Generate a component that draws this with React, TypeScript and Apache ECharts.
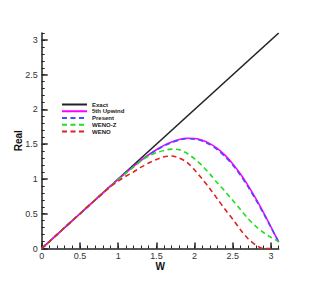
import React, { useEffect, useRef } from "react";
import * as echarts from "echarts";

const W = [0, 0.1, 0.2, 0.3, 0.4, 0.5, 0.6, 0.7, 0.8, 0.9, 1.0, 1.1, 1.2, 1.3, 1.4, 1.5, 1.6, 1.7, 1.8, 1.9, 2.0, 2.1, 2.2, 2.3, 2.4, 2.5, 2.6, 2.7, 2.8, 2.9, 3.0, 3.1];
const exactX = [0, 3.1];
const exactY = [0, 3.1];
const upwind5 = [0, 0.1, 0.2, 0.3, 0.4, 0.5, 0.6, 0.699, 0.799, 0.897, 0.994, 1.089, 1.181, 1.268, 1.349, 1.421, 1.484, 1.533, 1.568, 1.585, 1.582, 1.557, 1.509, 1.436, 1.339, 1.217, 1.072, 0.905, 0.72, 0.52, 0.309, 0.092];
const present = [0, 0.1, 0.2, 0.3, 0.4, 0.5, 0.6, 0.699, 0.799, 0.897, 0.993, 1.087, 1.178, 1.264, 1.344, 1.415, 1.477, 1.525, 1.56, 1.578, 1.574, 1.546, 1.495, 1.42, 1.32, 1.197, 1.052, 0.886, 0.703, 0.507, 0.3, 0.092];
const wenoZ = [0, 0.1, 0.2, 0.3, 0.4, 0.5, 0.6, 0.699, 0.798, 0.895, 0.99, 1.08, 1.17, 1.26, 1.33, 1.38, 1.41, 1.43, 1.42, 1.37, 1.29, 1.19, 1.07, 0.94, 0.82, 0.69, 0.56, 0.43, 0.32, 0.23, 0.16, 0.1];
const weno = [0, 0.1, 0.2, 0.3, 0.4, 0.5, 0.6, 0.698, 0.795, 0.89, 0.97, 1.04, 1.1, 1.17, 1.23, 1.28, 1.32, 1.33, 1.3, 1.24, 1.13, 1.0, 0.86, 0.71, 0.56, 0.42, 0.27, 0.14, 0.05, 0.0, 0.0];
const majorTicks = [0, 0.5, 1, 1.5, 2, 2.5, 3];

const seriesNames = ["Exact", "5th Upwind", "Present", "WENO-Z", "WENO"];

export default function App() {
  const ref = useRef<HTMLDivElement>(null);
  useEffect(() => {
    if (!ref.current) return;
    const chart = echarts.init(ref.current, null, { renderer: "svg" });
    const pairs = (ys: number[]) => ys.map((y, i) => [W[i], y]);
    const font = "Liberation Sans, Arial, sans-serif";
    const axisBase = {
      type: "value" as const,
      min: 0,
      max: 3.1,
      splitLine: { show: false },
    };
    const dash = [5, 3.5];
    chart.setOption({
      animation: false,
      backgroundColor: "#fff",
      grid: { left: 41.7, right: 38.3, top: 33, bottom: 33.5 },
      legend: {
        orient: "vertical",
        left: 56,
        top: 96.5,
        itemWidth: 25,
        itemHeight: 6,
        itemGap: 0.75,
        data: seriesNames,
        itemStyle: { opacity: 0 },
        textStyle: { fontSize: 6, fontWeight: "bold", color: "#222", fontFamily: font, lineHeight: 6 },
      },
      xAxis: [
        {
          ...axisBase,
          interval: 0.1,
          axisLine: { show: true, lineStyle: { color: "#222", width: 1.5 } },
          axisTick: { show: true, inside: true, length: 3, lineStyle: { color: "#222", width: 1 } },
          axisLabel: { show: false },
        },
        {
          ...axisBase,
          position: "bottom",
          interval: 0.5,
          axisLine: { show: false },
          axisTick: { show: true, inside: true, length: 6, customValues: majorTicks, lineStyle: { color: "#222", width: 1.5 } },
          axisLabel: { show: true, customValues: majorTicks, fontSize: 9, color: "#333", fontFamily: font, margin: 3 },
          name: "W",
          nameLocation: "middle",
          nameGap: 13,
          nameMoveOverlap: false,
          nameTextStyle: { fontSize: 10, fontWeight: "bold", color: "#111", fontFamily: font },
        },
      ],
      yAxis: [
        {
          ...axisBase,
          interval: 0.1,
          axisLine: { show: true, lineStyle: { color: "#222", width: 1.5 } },
          axisTick: { show: true, inside: true, length: 3, lineStyle: { color: "#222", width: 1 } },
          axisLabel: { show: false },
        },
        {
          ...axisBase,
          position: "left",
          interval: 0.5,
          axisLine: { show: false },
          axisTick: { show: true, inside: true, length: 6, customValues: majorTicks, lineStyle: { color: "#222", width: 1.5 } },
          axisLabel: { show: true, customValues: majorTicks, fontSize: 9, color: "#333", fontFamily: font, margin: 4 },
          name: "Real",
          nameLocation: "middle",
          nameRotate: 90,
          nameGap: 18,
          nameMoveOverlap: false,
          nameTextStyle: { fontSize: 10, fontWeight: "bold", color: "#111", fontFamily: font },
        },
      ],
      series: [
        {
          name: "Exact",
          type: "line",
          showSymbol: false,
          symbol: "none",
          data: exactX.map((x, i) => [x, exactY[i]]),
          lineStyle: { color: "#222", width: 1.6 },
          itemStyle: { color: "#222" },
        },
        {
          name: "5th Upwind",
          type: "line",
          showSymbol: false,
          symbol: "none",
          smooth: 0.3,
          data: pairs(upwind5),
          lineStyle: { color: "#ff00ff", width: 1.6 },
          itemStyle: { color: "#ff00ff" },
        },
        {
          name: "Present",
          type: "line",
          showSymbol: false,
          symbol: "none",
          smooth: 0.3,
          data: pairs(present),
          lineStyle: { color: "#4a4aff", width: 1.6, type: dash },
          itemStyle: { color: "#4a4aff" },
        },
        {
          name: "WENO-Z",
          type: "line",
          showSymbol: false,
          symbol: "none",
          smooth: 0.3,
          data: pairs(wenoZ),
          lineStyle: { color: "#22dd22", width: 1.6, type: dash },
          itemStyle: { color: "#22dd22" },
        },
        {
          name: "WENO",
          type: "line",
          showSymbol: false,
          symbol: "none",
          smooth: 0.3,
          data: pairs(weno),
          lineStyle: { color: "#dd2222", width: 1.6, type: dash },
          itemStyle: { color: "#dd2222" },
        },
      ],
    });
    return () => chart.dispose();
  }, []);
  return <div ref={ref} style={{ width: 317, height: 282, position: "absolute", left: 0, top: 0 }} />;
}
